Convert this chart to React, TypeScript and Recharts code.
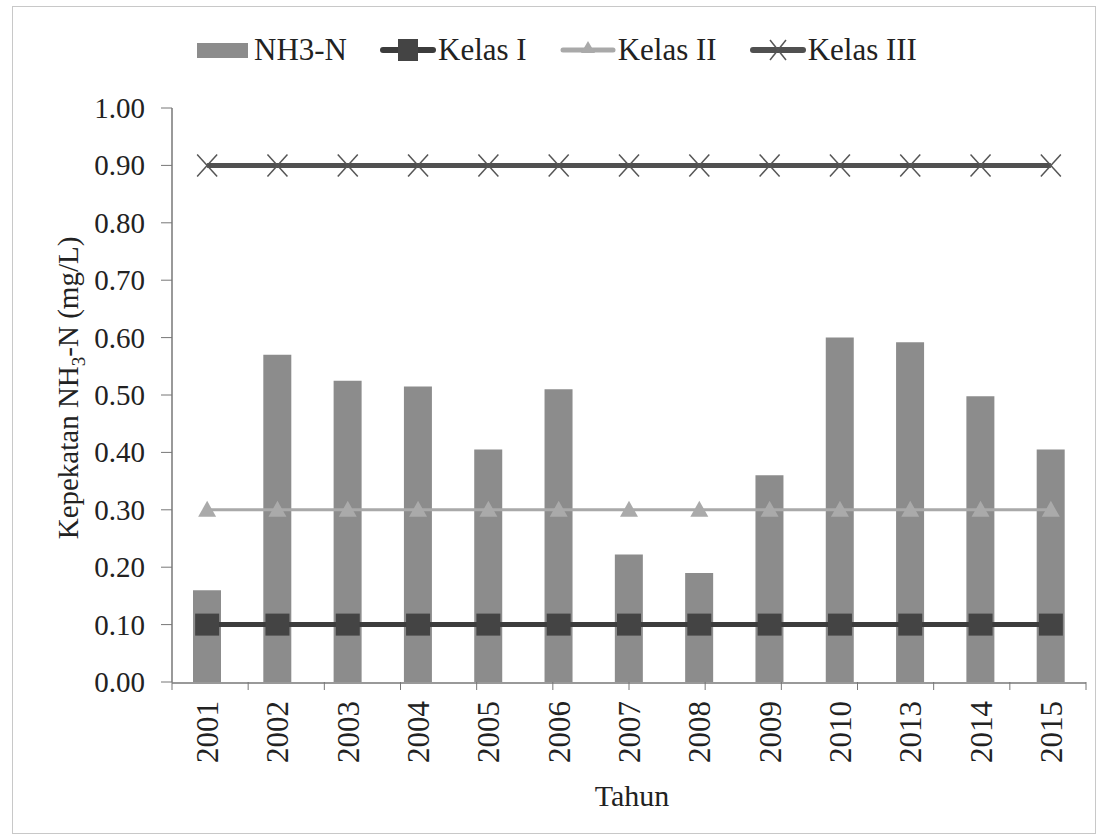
import React from 'react';
import {
  ComposedChart,
  Bar,
  Line,
  XAxis,
  YAxis,
} from 'recharts';

const years = ['2001', '2002', '2003', '2004', '2005', '2006', '2007', '2008', '2009', '2010', '2013', '2014', '2015'];
const nh3n = [0.16, 0.57, 0.525, 0.515, 0.405, 0.51, 0.222, 0.19, 0.36, 0.6, 0.592, 0.498, 0.405];
const kelas1 = [0.1, 0.1, 0.1, 0.1, 0.1, 0.1, 0.1, 0.1, 0.1, 0.1, 0.1, 0.1, 0.1];
const kelas2 = [0.3, 0.3, 0.3, 0.3, 0.3, 0.3, 0.3, 0.3, 0.3, 0.3, 0.3, 0.3, 0.3];
const kelas3 = [0.9, 0.9, 0.9, 0.9, 0.9, 0.9, 0.9, 0.9, 0.9, 0.9, 0.9, 0.9, 0.9];
const yTicks = [0, 0.1, 0.2, 0.3, 0.4, 0.5, 0.6, 0.7, 0.8, 0.9, 1.0];
const boundaryTicks = [0, 1, 2, 3, 4, 5, 6, 7, 8, 9, 10, 11, 12, 13];

const data = years.map((y, i) => ({
  year: y,
  nh3n: nh3n[i],
  k1: kelas1[i],
  k2: kelas2[i],
  k3: kelas3[i],
}));

const FONT = 'Liberation Serif';
const BAR = '#8c8c8c';
const K1 = '#3c3c3c';
const K2 = '#a9a9a9';
const K3 = '#505050';

const SquareDot = (props: any) => {
  const { cx, cy } = props;
  if (cx == null || cy == null) return null;
  return <rect x={cx - 12} y={cy - 11} width={24} height={22} fill="#444" />;
};

const TriDot = (props: any) => {
  const { cx, cy } = props;
  if (cx == null || cy == null) return null;
  return <polygon points={`${cx},${cy - 9} ${cx - 9},${cy + 7} ${cx + 9},${cy + 7}`} fill="#aaa" />;
};

const XDot = (props: any) => {
  const { cx, cy } = props;
  if (cx == null || cy == null) return null;
  return (
    <g stroke="#555" strokeWidth={1.5}>
      <line x1={cx - 10} y1={cy - 11} x2={cx + 10} y2={cy + 11} />
      <line x1={cx - 10} y1={cy + 11} x2={cx + 10} y2={cy - 11} />
    </g>
  );
};

const YearTick = (props: any) => {
  const { x, y, payload } = props;
  return (
    <text
      x={0}
      y={0}
      transform={`translate(${x + 11},${y + 10}) rotate(-90)`}
      textAnchor="end"
      style={{ fontFamily: FONT, fontSize: 31 }}
      fill="#222"
    >
      {payload.value}
    </text>
  );
};

const YTick = (props: any) => {
  const { x, y, payload } = props;
  return (
    <text x={x - 14} y={y + 10} textAnchor="end" style={{ fontFamily: FONT, fontSize: 29 }} fill="#222">
      {Number(payload.value).toFixed(2)}
    </text>
  );
};

const LegendBox = () => {
  const textStyle: React.CSSProperties = { fontFamily: FONT, fontSize: 31, color: '#222', lineHeight: '36px' };
  return (
    <div
      style={{
        position: 'absolute',
        top: 32,
        left: 197,
        display: 'flex',
        alignItems: 'center',
        gap: 33,
      }}
    >
      <div style={{ display: 'flex', alignItems: 'center', gap: 6 }}>
        <div style={{ width: 51, height: 15, background: BAR }} />
        <span style={textStyle}>NH3-N</span>
      </div>
      <div style={{ display: 'flex', alignItems: 'center', gap: 2 }}>
        <svg width={56} height={24}>
          <line x1={3} y1={12} x2={53} y2={12} stroke={K1} strokeWidth={6} strokeLinecap="round" />
          <rect x={18} y={1} width={20} height={22} fill="#444" />
        </svg>
        <span style={textStyle}>Kelas I</span>
      </div>
      <div style={{ display: 'flex', alignItems: 'center', gap: 2 }}>
        <svg width={56} height={24}>
          <line x1={3} y1={12} x2={53} y2={12} stroke={K2} strokeWidth={5} strokeLinecap="round" />
          <polygon points="28,3 21,15 35,15" fill="#aaa" />
        </svg>
        <span style={textStyle}>Kelas II</span>
      </div>
      <div style={{ display: 'flex', alignItems: 'center', gap: 2 }}>
        <svg width={56} height={24}>
          <line x1={3} y1={12} x2={53} y2={12} stroke={K3} strokeWidth={6} strokeLinecap="round" />
          <line x1={20} y1={2} x2={36} y2={22} stroke="#555" strokeWidth={1.5} />
          <line x1={20} y1={22} x2={36} y2={2} stroke="#555" strokeWidth={1.5} />
        </svg>
        <span style={textStyle}>Kelas III</span>
      </div>
    </div>
  );
};

export default function App() {
  return (
    <div style={{ position: 'absolute', left: 0, top: 0, width: 1105, height: 840, background: '#fff' }}>
      <div
        style={{
          position: 'absolute',
          left: 12,
          top: 6,
          width: 1084,
          height: 828,
          border: '1px solid #c8c8c8',
          boxSizing: 'border-box',
        }}
      />
      <div style={{ position: 'absolute', left: 0, top: 0 }}>
        <ComposedChart
          width={1105}
          height={840}
          data={data}
          margin={{ top: 108, right: 19, left: 0, bottom: 0 }}
        >
          <XAxis
            xAxisId={0}
            type="number"
            domain={[0, 13]}
            ticks={boundaryTicks}
            tickFormatter={() => ''}
            axisLine={false}
            tickLine={{ stroke: '#777' }}
            tickSize={8}
            height={1}
          />
          <XAxis
            xAxisId="year"
            dataKey="year"
            axisLine={{ stroke: '#777', strokeWidth: 1.5 }}
            tickLine={false}
            tick={<YearTick />}
            interval={0}
            height={157}
          />
          <YAxis
            domain={[0, 1]}
            ticks={yTicks}
            axisLine={{ stroke: '#777', strokeWidth: 1.5 }}
            tickLine={{ stroke: '#777' }}
            tickSize={11}
            tick={<YTick />}
            width={172}
            interval={0}
          />
          <Bar xAxisId="year" dataKey="nh3n" fill={BAR} barSize={28} isAnimationActive={false} />
          <Line xAxisId="year" dataKey="k1" stroke={K1} strokeWidth={5} dot={<SquareDot />} activeDot={false} isAnimationActive={false} />
          <Line xAxisId="year" dataKey="k2" stroke={K2} strokeWidth={3} dot={<TriDot />} activeDot={false} isAnimationActive={false} />
          <Line xAxisId="year" dataKey="k3" stroke={K3} strokeWidth={5} dot={<XDot />} activeDot={false} isAnimationActive={false} />
        </ComposedChart>
      </div>
      <svg width={120} height={840} style={{ position: 'absolute', left: 0, top: 0 }}>
        <text
          transform="translate(78,388) rotate(-90)"
          textAnchor="middle"
          style={{ fontFamily: FONT, fontSize: 29 }}
          fill="#222"
        >
          Kepekatan NH
          <tspan style={{ fontSize: 19 }} dy={7}>3</tspan>
          <tspan dy={-7}>-N (mg/L)</tspan>
        </text>
      </svg>
      <LegendBox />
      <svg width={1105} height={840} style={{ position: 'absolute', left: 0, top: 0, pointerEvents: 'none' }}>
        <text x={632} y={806} textAnchor="middle" style={{ fontFamily: FONT, fontSize: 30 }} fill="#222">
          Tahun
        </text>
      </svg>
    </div>
  );
}
